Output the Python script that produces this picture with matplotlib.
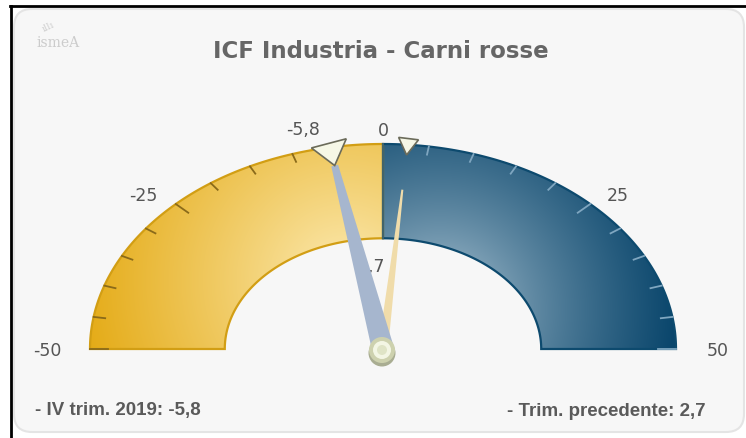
import numpy as np
import matplotlib
matplotlib.use("Agg")
import matplotlib.pyplot as plt
from matplotlib.patches import Polygon, FancyBboxPatch, Circle

# --- data ---
title = "ICF Industria - Carni rosse"
scale_min, scale_max = -50, 50
major_ticks = [-50, -25, 0, 25, 50]
minor_step = 5
current_value = -5.8
previous_value = 2.7
current_label = "- IV trim. 2019: -5,8"
previous_label = "- Trim. precedente: 2,7"

W, H = 746, 438
CX, CY = 383, 349
RX, RY = 293, 205
R_IN = 0.54


def pt(v, r):
    th = np.radians(180 - 180.0 * (v - scale_min) / (scale_max - scale_min))
    return CX + r * RX * np.cos(th), CY - r * RY * np.sin(th)


def band(v0, v1):
    vs = np.linspace(v0, v1, 120)
    outer = [pt(v, 1.0) for v in vs]
    inner = [pt(v, R_IN) for v in vs[::-1]]
    return np.array(outer + inner)


def fmt(v):
    return f"{v:.1f}".replace(".", ",")


fig = plt.figure(figsize=(W / 100, H / 100), dpi=100)
fig.patch.set_facecolor("white")
ax = fig.add_axes([0, 0, 1, 1])
ax.set_xlim(0, W)
ax.set_ylim(H, 0)
ax.axis("off")

# panel
ax.add_patch(FancyBboxPatch((14, 9), W - 16, H - 15, boxstyle="round,pad=0,rounding_size=18",
                            fc="#f7f7f7", ec="#e4e4e4", lw=1.5, zorder=0))
ax.plot([10, W], [6, 6], color="black", lw=2, zorder=1)
ax.plot([11, 11], [6, H], color="black", lw=2, zorder=1)

# logo
ax.text(48, 27, "ıllı", fontsize=7, color="#cfcfcf", rotation=25, family="DejaVu Serif",
        ha="center", va="center")
ax.text(58, 43, "ismeA", fontsize=10, color="#cccccc", family="DejaVu Serif",
        ha="center", va="center")

ax.text(381, 52, title, ha="center", va="center", fontsize=16.5, fontweight="bold",
        color="#666666", family="DejaVu Sans")

# gradient bands
yy, xx = np.mgrid[0:H, 0:W] + 0.5


def grad_image(focal, scale, light, dark, gamma):
    d = np.hypot(xx - focal[0], yy - focal[1]) / scale
    t = np.clip(d, 0, 1) ** gamma
    light = np.array(light) / 255.0
    dark = np.array(dark) / 255.0
    return light[None, None, :] * (1 - t[..., None]) + dark[None, None, :] * t[..., None]


for (v0, v1, focal, scale, light, dark, gamma, edge) in [
    (scale_min, 0, (345, 280), 270, (253, 236, 182), (228, 170, 20), 0.9, "#d29e14"),
    (0, scale_max, (440, 310), 235, (214, 229, 238), (10, 70, 108), 0.6, "#0d4a6e"),
]:
    poly = Polygon(band(v0, v1), closed=True, fc="none", ec=edge, lw=1.6, zorder=3)
    ax.add_patch(poly)
    im = ax.imshow(grad_image(focal, scale, light, dark, gamma), extent=(0, W, H, 0),
                   zorder=2, interpolation="bilinear")
    im.set_clip_path(poly)

ax.set_xlim(0, W)
ax.set_ylim(H, 0)

# ticks
for v in range(scale_min, scale_max + 1, minor_step):
    if v == 0:
        continue
    ln = 0.06 if v in major_ticks else 0.04
    col = "#8a6a1a" if v < 0 else "#7fa6c0"
    x0, y0 = pt(v, 1.0)
    x1, y1 = pt(v, 1.0 - ln)
    ax.plot([x0, x1], [y0, y1], color=col, lw=1.3, zorder=4)
x0, y0 = pt(0, 1.0)
x1, y1 = pt(0, R_IN)
ax.plot([x0, x1], [y0, y1], color="#4d6a6a", lw=1.2, zorder=4)

label_pos = {-50: (47, 351), -25: (143, 196), 0: (383, 131), 25: (618, 196), 50: (718, 351)}
for v in major_ticks:
    x, y = label_pos[v]
    ax.text(x, y, str(v), ha="center", va="center", fontsize=12.5, color="#555555")

# value labels
ax.text(303, 130, fmt(current_value), ha="center", va="center", fontsize=12.5, color="#555555")
ax.text(385, 267, fmt(previous_value), ha="right", va="center", fontsize=12.5,
        color="#555555", zorder=5)


def needle(v, r_tip, w_base, w_tip, color, z):
    tx, ty = pt(v, r_tip)
    dx, dy = tx - CX, ty - CY
    n = np.hypot(dx, dy)
    px, py = -dy / n, dx / n
    verts = [(CX + px * w_base, CY + py * w_base), (tx + px * w_tip, ty + py * w_tip),
             (tx - px * w_tip, ty - py * w_tip), (CX - px * w_base, CY - py * w_base)]
    ax.add_patch(Polygon(verts, closed=True, fc=color, ec="none", zorder=z))


def marker(v, r0, r1, half_w, z):
    tipx, tipy = pt(v, r0)
    bx, by = pt(v, r1)
    dx, dy = bx - tipx, by - tipy
    n = np.hypot(dx, dy)
    px, py = -dy / n, dx / n
    verts = [(tipx, tipy), (bx + px * half_w, by + py * half_w), (bx - px * half_w, by - py * half_w)]
    ax.add_patch(Polygon(verts, closed=True, fc="#f6f7e6", ec="#6b6b5a", lw=1.2, zorder=z))


needle(previous_value, 0.78, 5, 1.0, "#f0dcaa", 6)
needle(current_value, 0.91, 11, 3.5, "#a6b6ce", 7)
marker(previous_value, 0.95, 1.03, 10, 8)
marker(current_value, 0.91, 1.02, 18, 8)

# hub
ax.add_patch(Circle((CX - 1, CY + 4), 13.5, fc="#a9ad92", ec="none", zorder=9))
ax.add_patch(Circle((CX - 1, CY + 1), 13, fc="#cdd1ae", ec="none", zorder=9))
ax.add_patch(Circle((CX - 1, CY + 1), 9, fc="#f3f6e4", ec="none", zorder=10))
ax.add_patch(Circle((CX - 1, CY + 1), 5, fc="#dfe4c6", ec="none", zorder=11))

# footer
ax.text(35, 411, current_label, ha="left", va="center", fontsize=13.5, fontweight="bold",
        color="#5a5a5a", family="Liberation Sans")
ax.text(706, 411, previous_label, ha="right", va="center", fontsize=13.5, fontweight="bold",
        color="#5a5a5a", family="Liberation Sans")

fig.savefig("out.png", dpi=100, facecolor=fig.get_facecolor())
